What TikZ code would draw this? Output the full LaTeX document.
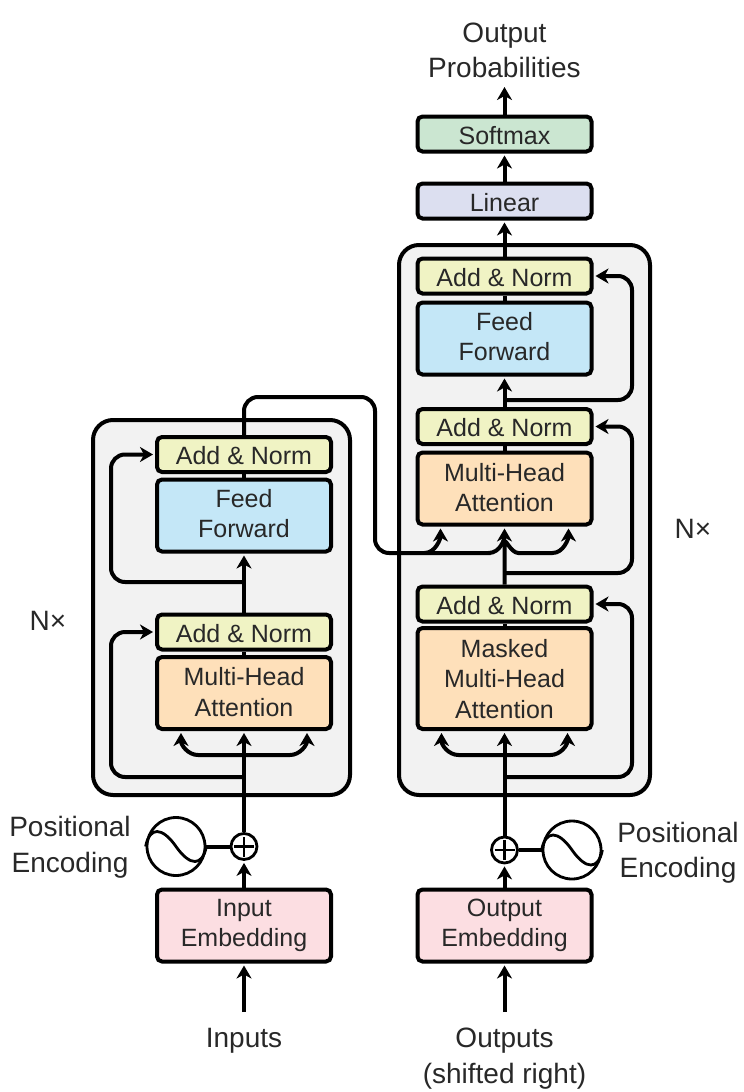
\documentclass[tikz,border=0pt]{standalone}
\usepackage{fontspec}
\setmainfont{Liberation Sans}
\usetikzlibrary{arrows.meta}
\definecolor{addcol}{RGB}{240,243,196}
\definecolor{feedcol}{RGB}{196,231,247}
\definecolor{attcol}{RGB}{254,224,186}
\definecolor{embcol}{RGB}{252,222,226}
\definecolor{softcol}{RGB}{203,230,209}
\definecolor{lincol}{RGB}{220,223,240}
\definecolor{stackcol}{RGB}{242,242,242}
\definecolor{inkcol}{RGB}{40,40,40}

\begin{document}
\begin{tikzpicture}[x=1pt,y=-1pt]
        \useasboundingbox (0,0) rectangle (744,1092);
        \tikzstyle{every path}=[line width=4pt]

        \tikzstyle{stackbox}=[draw,fill=stackcol,rounded corners=20pt]
        \tikzstyle{blockbox}=[draw,rounded corners=5pt,minimum width=174pt,inner sep=0pt,align=center,
            text=inkcol,font=\fontsize{25}{30.5}\selectfont]
        \tikzstyle{onerow}=[blockbox,minimum height=35pt,text height=20pt,text depth=0pt]
        \tikzstyle{addbox}=[onerow,fill=addcol]
        \tikzstyle{feedbox}=[blockbox,fill=feedcol,minimum height=72pt,text depth=4pt]
        \tikzstyle{attbox}=[blockbox,fill=attcol,minimum height=72pt,text depth=2pt]
        \tikzstyle{embbox}=[blockbox,fill=embcol,minimum height=72pt]
        \tikzstyle{caption}=[align=center,inner sep=0pt,text=inkcol,font=\fontsize{28}{35.5}\selectfont]
        \tikzstyle{sinebox}=[draw,circle,line width=2.8pt,minimum size=58pt,inner sep=0pt]
        \tikzstyle{addsign}=[draw,circle,fill=white,line width=2.8pt,minimum size=26pt,inner sep=0pt]
        \tikzstyle{conn}=[-{Stealth[length=13pt,width=15pt,inset=4pt]},shorten >=2pt]
        \tikzstyle{wire}=[rounded corners=14pt]

        % grey stacks
        \draw[stackbox] (93,420) rectangle (350,795);
        \draw[stackbox] (399,245) rectangle (650,795);

        % encoder side
        \node[embbox] at (244,925.5) (embedA) {\strut Input\\Embedding\strut};
        \node[attbox] at (244,693) (attA) {Multi-Head\\Attention};
        \node[addbox] at (244,632) (addA) {Add \& Norm};
        \node[feedbox] at (244,515.5) (feedA) {Feed\\Forward};
        \node[addbox] at (244,454.5) (addB) {Add \& Norm};

        % decoder side
        \node[embbox] at (504.5,925.5) (embedB) {\strut Output\\Embedding\strut};
        \node[attbox,minimum height=101pt,text depth=0pt] at (504.5,678.5) (attB) {Masked\\Multi-Head\\Attention};
        \node[addbox] at (504.5,604) (addC) {Add \& Norm};
        \node[attbox] at (504.5,488.5) (attC) {Multi-Head\\Attention};
        \node[addbox] at (504.5,426.5) (addD) {Add \& Norm};
        \node[feedbox] at (504.5,338.5) (feedB) {Feed\\Forward};
        \node[addbox] at (504.5,276) (addE) {Add \& Norm};
        \node[onerow,fill=lincol] at (504.5,201) (linear) {Linear};
        \node[onerow,fill=softcol] at (504.5,134) (softmax) {Softmax};

        % outer labels
        \node[caption] at (504.5,50.5) (outprob) {Output\\Probabilities};
        \node[caption] at (244,1041) (inputs) {Inputs};
        \node[caption] at (504.5,1058.5) (outputs) {Outputs\\(shifted right)};
        \node[caption] at (70,847) (posA) {Positional\\Encoding};
        \node[caption] at (678,852.5) (posB) {Positional\\Encoding};
        \node[caption] at (48,621) (timesA) {N×};
        \node[caption] at (693,529) (timesB) {N×};

        % positional encoding
        \node[sinebox] at (176,846.5) (sineA) {};
        \node[sinebox] at (572,850) (sineB) {};
        \node[addsign] at (244,846.5) (plusA) {};
        \node[addsign] at (504.5,850) (plusB) {};
        \foreach \n in {sineA,sineB} {
            \draw[line width=2.8pt] (\n.west) .. controls +(4,-20) and +(-14,-20) .. (\n.center)
                .. controls +(14,20) and +(-4,20) .. (\n.east);
        };
        \foreach \n in {plusA,plusB} {
            \draw[line width=2.8pt] ([yshift=-10pt]\n.center) -- ([yshift=10pt]\n.center);
            \draw[line width=2.8pt] ([xshift=-10pt]\n.center) -- ([xshift=10pt]\n.center);
        };
        \draw (sineA) -- (plusA);
        \draw (sineB) -- (plusB);

        % free ends and rails
        \coordinate (railA) at (111,0);
        \coordinate (railB) at (632,0);
        \coordinate (railC) at (375,0);
        \coordinate (inA) at (244,1012);
        \coordinate (inB) at (504.5,1012);
        \coordinate (outTop) at (504.5,85);
        \coordinate (resA) at (244,777);
        \coordinate (resB) at (244,582);
        \coordinate (resC) at (504.5,777);
        \coordinate (resD) at (504.5,573);
        \coordinate (resE) at (504.5,400);
        \coordinate (forkA) at (244,755);
        \coordinate (forkB) at (504.5,755);
        \coordinate (crossTop) at (244,397);
        \coordinate (crossLow) at (375,553);
        \coordinate (crossMid) at (504.5,553);

        % straight arrows
        \draw[conn] (inA) -- (embedA);
        \draw[conn] (embedA) -- (plusA);
        \draw[conn] (plusA) -- (attA);
        \draw (attA) -- (addA);
        \draw[conn] (addA) -- (feedA);
        \draw (feedA) -- (addB);
        \draw[conn] (inB) -- (embedB);
        \draw[conn] (embedB) -- (plusB);
        \draw[conn] (plusB) -- (attB);
        \draw (attB) -- (addC);
        \draw (attC) -- (addD);
        \draw[conn] (addD) -- (feedB);
        \draw (feedB) -- (addE);
        \draw[conn] (addE) -- (linear);
        \draw[conn] (linear) -- (softmax);
        \draw[conn] (softmax) -- (outTop);

        % residual wires
        \draw[conn,wire] (resA) -- (resA -| railA) |- (addA.west);
        \draw[conn,wire] (resB) -- (resB -| railA) |- (addB.west);
        \draw[conn,wire] (resC) -- (resC -| railB) |- (addC.east);
        \draw[conn,wire] (resD) -- (resD -| railB) |- (addD.east);
        \draw[conn,wire] (resE) -- (resE -| railB) |- (addE.east);

        % forks into attention
        \foreach \f/\a in {forkA/attA,forkB/attB} {
            \draw[conn] (\f) -- ([xshift=-46pt]\f) .. controls +(-10,0) and +(0,14) .. ([xshift=-63pt]\a.south);
            \draw[conn] (\f) -- ([xshift=46pt]\f) .. controls +(10,0) and +(0,14) .. ([xshift=63pt]\a.south);
        };

        % encoder to decoder
        \draw[wire] (addB.north) -- (crossTop) -- (crossTop -| railC) -- (crossLow) -- ([xshift=-14pt]crossMid);
        \draw[conn] ([xshift=-80pt]crossMid) .. controls +(11,0) and +(0,12) .. ([xshift=-64pt]attC.south);
        \draw[conn] ([xshift=-16pt]crossMid) .. controls +(12,0) and +(0,12) .. (attC.south);

        % decoder to decoder
        \draw[conn] (addC.north) -- ([yshift=10pt]crossMid) .. controls +(0,-7) and +(-8,0) .. ([xshift=14pt]crossMid)
            -- ([xshift=48pt]crossMid) .. controls +(11,0) and +(0,12) .. ([xshift=64pt]attC.south);
\end{tikzpicture}
\end{document}
